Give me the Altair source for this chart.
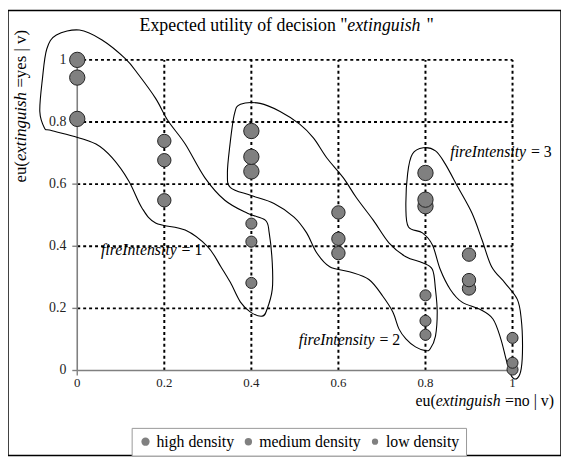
import altair as alt
import pandas as pd

# ---------------- data ----------------
density_labels = ["high density", "medium density", "low density"]

high_x = [0, 0, 0, 0.4, 0.4, 0.4, 0.8, 0.8, 0.8]
high_y = [1.0, 0.943, 0.81, 0.771, 0.688, 0.641, 0.636, 0.55, 0.529]
med_x = [0.2, 0.2, 0.2, 0.6, 0.6, 0.6, 0.9, 0.9, 0.9]
med_y = [0.739, 0.677, 0.548, 0.509, 0.424, 0.378, 0.373, 0.291, 0.264]
low_x = [0.4, 0.4, 0.4, 0.8, 0.8, 0.8, 1.0, 1.0, 1.0]
low_y = [0.473, 0.415, 0.282, 0.242, 0.160, 0.115, 0.105, 0.025, 0.003]

tick_values = [0, 0.2, 0.4, 0.6, 0.8, 1]
tick_labels = ["0", "0.2", "0.4", "0.6", "0.8", "1"]
grid_values = [0.2, 0.4, 0.6, 0.8, 1.0]

# hand-drawn group outlines (data units)
blob1_x = [-0.075, -0.086, -0.080, -0.070, -0.048, 0.005, 0.057, 0.111, 0.141, 0.180, 0.209,
           0.248, 0.293, 0.339, 0.391, 0.432, 0.441, 0.448, 0.448, 0.436, 0.425, 0.398, 0.375,
           0.352, 0.330, 0.300, 0.248, 0.180, 0.148, 0.118, 0.080, 0.043, -0.011, -0.064]
blob1_y = [0.780, 0.834, 0.939, 1.035, 1.080, 1.096, 1.064, 1.003, 0.952, 0.876, 0.803,
           0.729, 0.621, 0.548, 0.506, 0.484, 0.443, 0.347, 0.261, 0.197, 0.175, 0.188, 0.220,
           0.283, 0.334, 0.398, 0.452, 0.475, 0.525, 0.611, 0.685, 0.729, 0.755, 0.774]
blob2_x = [0.361, 0.375, 0.420, 0.466, 0.511, 0.543, 0.573, 0.611, 0.641, 0.680, 0.716, 0.755,
           0.793, 0.816, 0.823, 0.827, 0.823, 0.811, 0.800, 0.777, 0.755, 0.739, 0.725, 0.702,
           0.670, 0.625, 0.580, 0.550, 0.527, 0.498, 0.452, 0.398, 0.352, 0.345, 0.350]
blob2_y = [0.825, 0.857, 0.860, 0.834, 0.793, 0.748, 0.685, 0.621, 0.557, 0.484, 0.411, 0.366,
           0.347, 0.325, 0.261, 0.188, 0.111, 0.070, 0.064, 0.076, 0.102, 0.134, 0.188, 0.239,
           0.293, 0.318, 0.334, 0.379, 0.443, 0.494, 0.538, 0.564, 0.589, 0.634, 0.717]
blob3_x = [0.770, 0.795, 0.823, 0.845, 0.875, 0.907, 0.930, 0.952, 0.982, 1.011, 1.020, 1.023,
           1.020, 1.011, 0.998, 0.986, 0.973, 0.955, 0.925, 0.884, 0.857, 0.834, 0.816, 0.793,
           0.761, 0.755, 0.759]
blob3_y = [0.697, 0.717, 0.707, 0.666, 0.589, 0.506, 0.420, 0.334, 0.283, 0.229, 0.166, 0.080,
           0.006, -0.025, -0.019, 0.032, 0.102, 0.166, 0.197, 0.220, 0.261, 0.325, 0.404, 0.443,
           0.462, 0.525, 0.634]

intensity_labels = ["1", "2", "3"]

# ---------------- layout constants ----------------
FONT = "Liberation Serif"
GREY = "#808080"
NB = "\u00a0"
W, H = 559, 450
xs = alt.Scale(domain=[-0.15909, 1.11136], nice=False, zero=False)
ys = alt.Scale(domain=[-0.27389, 1.15924], nice=False, zero=False)
X = alt.X("x:Q", scale=xs, axis=None)
Y = alt.Y("y:Q", scale=ys, axis=None)

# ---------------- tables ----------------
points = pd.DataFrame({
    "x": high_x + med_x + low_x,
    "y": high_y + med_y + low_y,
    "density": [density_labels[0]] * len(high_x) + [density_labels[1]] * len(med_x)
               + [density_labels[2]] * len(low_x),
}).sort_values("y").reset_index(drop=True)

blob_rows = []
for name, bx, by in [("a", blob1_x, blob1_y), ("b", blob2_x, blob2_y), ("c", blob3_x, blob3_y)]:
    for i, (a, b) in enumerate(zip(bx, by)):
        blob_rows.append({"blob": name, "i": i, "x": a, "y": b})
blobs = pd.DataFrame(blob_rows)

vgrid = pd.DataFrame({"x": grid_values, "y": [0] * 5, "y2": [1] * 5})
hgrid = pd.DataFrame({"y": grid_values, "x": [0] * 5, "x2": [1] * 5})
axis_y = pd.DataFrame({"x": [0], "y": [0], "y2": [1]})
axis_x = pd.DataFrame({"y": [0], "x": [0], "x2": [1]})
yt = pd.DataFrame({"x": [0] * 6, "y": tick_values, "t": tick_labels})
xt = pd.DataFrame({"x": tick_values, "y": [0] * 6, "t": tick_labels})

grid_style = dict(color="black", strokeWidth=2, strokeDash=[3, 3])

layers = []
layers.append(alt.Chart(vgrid).mark_rule(**grid_style).encode(x=X, y=Y, y2="y2:Q"))
layers.append(alt.Chart(hgrid).mark_rule(**grid_style).encode(x=X, x2="x2:Q", y=Y))
layers.append(alt.Chart(axis_y).mark_rule(color=GREY, strokeWidth=1.6).encode(x=X, y=Y, y2="y2:Q"))
layers.append(alt.Chart(axis_x).mark_rule(color=GREY, strokeWidth=1.6).encode(x=X, x2="x2:Q", y=Y))
# tick marks
layers.append(alt.Chart(yt).mark_rule(color=GREY, strokeWidth=1.4, x2Offset=-5)
              .encode(x=X, x2="x:Q", y=Y))
layers.append(alt.Chart(xt[xt.x == 0]).mark_rule(color=GREY, strokeWidth=1.4, y2Offset=5)
              .encode(x=X, y=Y, y2="y:Q"))
# tick labels
layers.append(alt.Chart(yt).mark_text(font=FONT, fontSize=14, align="right", baseline="middle",
                                      dx=-11, color="#222").encode(x=X, y=Y, text="t:N"))
layers.append(alt.Chart(xt).mark_text(font=FONT, fontSize=13, align="center", baseline="top",
                                      dy=7, color="#222").encode(x=X, y=Y, text="t:N"))
# outlines
layers.append(alt.Chart(blobs).mark_line(color="black", strokeWidth=1.1, interpolate="cardinal-closed")
              .encode(x=X, y=Y, detail="blob:N", order="i:Q"))
# legend carrier (small circles hidden beneath the real ones)
layers.append(
    alt.Chart(points).mark_circle(color=GREY, opacity=1, stroke="#333", strokeWidth=1).encode(
        x=X, y=Y,
        size=alt.Size("density:O", sort=density_labels,
                      scale=alt.Scale(domain=density_labels, range=[70, 40, 20]),
                      legend=alt.Legend(orient="none", legendX=125, legendY=422,
                                        direction="horizontal", title=None, padding=6,
                                        strokeColor="#999", fillColor="white",
                                        labelFont=FONT, labelFontSize=16, labelColor="black",
                                        symbolFillColor=GREY, symbolStrokeColor="#333",
                                        symbolStrokeWidth=1, symbolOpacity=1,
                                        columnPadding=6, labelOffset=3, symbolType="circle")),
    )
)
# data points
layers.append(
    alt.Chart(points).mark_circle(color=GREY, opacity=1, stroke="#222", strokeWidth=1).encode(
        x=X, y=Y,
        size=alt.Size("density:O", sort=density_labels,
                      scale=alt.Scale(domain=density_labels, range=[240, 125, 38]),
                      legend=None),
    )
)


def text_piece(x, y, t, dx=0, italic=False, size=16, angle=0):
    df = pd.DataFrame({"x": [x], "y": [y], "t": [t]})
    kw = dict(font=FONT, fontSize=size, align="left", baseline="alphabetic", dx=dx, color="black")
    if italic:
        kw["fontStyle"] = "italic"
    if angle:
        kw["angle"] = angle
    return alt.Chart(df).mark_text(**kw).encode(x=X, y=Y, text="t:N")


# title
layers.append(text_piece(0.1432, 1.0924, 'Expected utility of decision "', 0, False, 18))
layers.append(text_piece(0.1432, 1.0924, "extinguish", 210, True, 18))
layers.append(text_piece(0.1432, 1.0924, '"', 290, False, 18))
# y-axis title (rotated)
layers.append(text_piece(-0.118, 0.605, "eu(", 0, False, 17, 270))
layers.append(text_piece(-0.118, 0.605, "extinguish", 21.7, True, 17, 270))
layers.append(text_piece(-0.118, 0.605, "=yes | v)", 96, False, 17, 270))
# x-axis title
layers.append(text_piece(0.777, -0.113, "eu(", 0, False, 16))
layers.append(text_piece(0.777, -0.113, "extinguish", 20.4, True, 16))
layers.append(text_piece(0.777, -0.113, "=no | v)", 90.5, False, 16))
# group labels
for (lx, ly), lab in zip([(0.0545, 0.373), (0.509, 0.083), (0.857, 0.688)], intensity_labels):
    layers.append(text_piece(lx, ly, "fireIntensity", 0, True, 16))
    layers.append(text_piece(lx, ly, "=" + NB + lab, 81.5, False, 16))

chart = (
    alt.layer(*layers)
    .resolve_scale(size="independent")
    .properties(width=W, height=H, padding=0, autosize=alt.AutoSizeParams(type="none"))
    .configure(font=FONT)
    .configure_legend(labelFont=FONT)
    .configure_view(stroke="black", strokeWidth=1.5)
)

chart.save("out.html", embed_options={"renderer": "svg", "actions": False})
